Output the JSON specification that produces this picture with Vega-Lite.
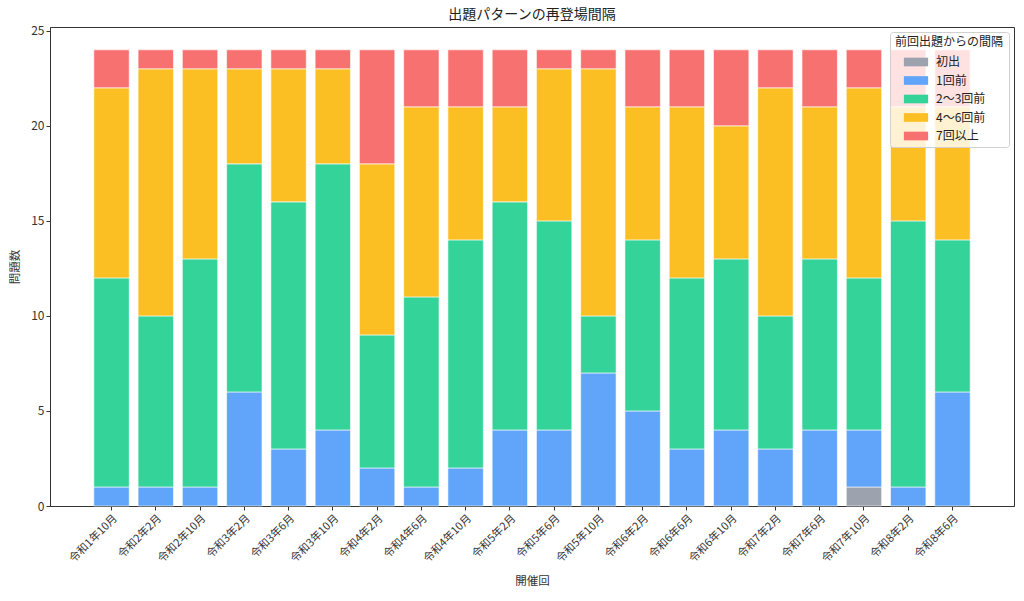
{
  "$schema": "https://vega.github.io/schema/vega-lite/v6.json",
  "autosize": {"type": "none"},
  "padding": {"left": 50, "top": 27, "right": 10, "bottom": 95},
  "width": 964,
  "height": 479,
  "title": {"text": "出題パターンの再登場間隔", "fontSize": 14, "fontWeight": "normal", "font": "Noto Sans CJK JP", "color": "#222", "offset": 3},
  "config": {
    "font": "Noto Sans CJK JP",
    "view": {"stroke": "#333", "strokeWidth": 1},
    "axis": {"labelFont": "Noto Sans CJK JP", "titleFont": "Noto Sans CJK JP", "labelColor": "#333", "titleColor": "#333", "tickColor": "#333", "domainColor": "#333", "titleFontWeight": "normal", "grid": false, "labelFontSize": 11, "titleFontSize": 11.5}
  },
  "data": {
    "values": [
      {"session": "令和1年10月", "interval": "1回前", "count": 1},
      {"session": "令和1年10月", "interval": "2〜3回前", "count": 11},
      {"session": "令和1年10月", "interval": "4〜6回前", "count": 10},
      {"session": "令和1年10月", "interval": "7回以上", "count": 2},
      {"session": "令和2年2月", "interval": "1回前", "count": 1},
      {"session": "令和2年2月", "interval": "2〜3回前", "count": 9},
      {"session": "令和2年2月", "interval": "4〜6回前", "count": 13},
      {"session": "令和2年2月", "interval": "7回以上", "count": 1},
      {"session": "令和2年10月", "interval": "1回前", "count": 1},
      {"session": "令和2年10月", "interval": "2〜3回前", "count": 12},
      {"session": "令和2年10月", "interval": "4〜6回前", "count": 10},
      {"session": "令和2年10月", "interval": "7回以上", "count": 1},
      {"session": "令和3年2月", "interval": "1回前", "count": 6},
      {"session": "令和3年2月", "interval": "2〜3回前", "count": 12},
      {"session": "令和3年2月", "interval": "4〜6回前", "count": 5},
      {"session": "令和3年2月", "interval": "7回以上", "count": 1},
      {"session": "令和3年6月", "interval": "1回前", "count": 3},
      {"session": "令和3年6月", "interval": "2〜3回前", "count": 13},
      {"session": "令和3年6月", "interval": "4〜6回前", "count": 7},
      {"session": "令和3年6月", "interval": "7回以上", "count": 1},
      {"session": "令和3年10月", "interval": "1回前", "count": 4},
      {"session": "令和3年10月", "interval": "2〜3回前", "count": 14},
      {"session": "令和3年10月", "interval": "4〜6回前", "count": 5},
      {"session": "令和3年10月", "interval": "7回以上", "count": 1},
      {"session": "令和4年2月", "interval": "1回前", "count": 2},
      {"session": "令和4年2月", "interval": "2〜3回前", "count": 7},
      {"session": "令和4年2月", "interval": "4〜6回前", "count": 9},
      {"session": "令和4年2月", "interval": "7回以上", "count": 6},
      {"session": "令和4年6月", "interval": "1回前", "count": 1},
      {"session": "令和4年6月", "interval": "2〜3回前", "count": 10},
      {"session": "令和4年6月", "interval": "4〜6回前", "count": 10},
      {"session": "令和4年6月", "interval": "7回以上", "count": 3},
      {"session": "令和4年10月", "interval": "1回前", "count": 2},
      {"session": "令和4年10月", "interval": "2〜3回前", "count": 12},
      {"session": "令和4年10月", "interval": "4〜6回前", "count": 7},
      {"session": "令和4年10月", "interval": "7回以上", "count": 3},
      {"session": "令和5年2月", "interval": "1回前", "count": 4},
      {"session": "令和5年2月", "interval": "2〜3回前", "count": 12},
      {"session": "令和5年2月", "interval": "4〜6回前", "count": 5},
      {"session": "令和5年2月", "interval": "7回以上", "count": 3},
      {"session": "令和5年6月", "interval": "1回前", "count": 4},
      {"session": "令和5年6月", "interval": "2〜3回前", "count": 11},
      {"session": "令和5年6月", "interval": "4〜6回前", "count": 8},
      {"session": "令和5年6月", "interval": "7回以上", "count": 1},
      {"session": "令和5年10月", "interval": "1回前", "count": 7},
      {"session": "令和5年10月", "interval": "2〜3回前", "count": 3},
      {"session": "令和5年10月", "interval": "4〜6回前", "count": 13},
      {"session": "令和5年10月", "interval": "7回以上", "count": 1},
      {"session": "令和6年2月", "interval": "1回前", "count": 5},
      {"session": "令和6年2月", "interval": "2〜3回前", "count": 9},
      {"session": "令和6年2月", "interval": "4〜6回前", "count": 7},
      {"session": "令和6年2月", "interval": "7回以上", "count": 3},
      {"session": "令和6年6月", "interval": "1回前", "count": 3},
      {"session": "令和6年6月", "interval": "2〜3回前", "count": 9},
      {"session": "令和6年6月", "interval": "4〜6回前", "count": 9},
      {"session": "令和6年6月", "interval": "7回以上", "count": 3},
      {"session": "令和6年10月", "interval": "1回前", "count": 4},
      {"session": "令和6年10月", "interval": "2〜3回前", "count": 9},
      {"session": "令和6年10月", "interval": "4〜6回前", "count": 7},
      {"session": "令和6年10月", "interval": "7回以上", "count": 4},
      {"session": "令和7年2月", "interval": "1回前", "count": 3},
      {"session": "令和7年2月", "interval": "2〜3回前", "count": 7},
      {"session": "令和7年2月", "interval": "4〜6回前", "count": 12},
      {"session": "令和7年2月", "interval": "7回以上", "count": 2},
      {"session": "令和7年6月", "interval": "1回前", "count": 4},
      {"session": "令和7年6月", "interval": "2〜3回前", "count": 9},
      {"session": "令和7年6月", "interval": "4〜6回前", "count": 8},
      {"session": "令和7年6月", "interval": "7回以上", "count": 3},
      {"session": "令和7年10月", "interval": "初出", "count": 1},
      {"session": "令和7年10月", "interval": "1回前", "count": 3},
      {"session": "令和7年10月", "interval": "2〜3回前", "count": 8},
      {"session": "令和7年10月", "interval": "4〜6回前", "count": 10},
      {"session": "令和7年10月", "interval": "7回以上", "count": 2},
      {"session": "令和8年2月", "interval": "1回前", "count": 1},
      {"session": "令和8年2月", "interval": "2〜3回前", "count": 14},
      {"session": "令和8年2月", "interval": "4〜6回前", "count": 6},
      {"session": "令和8年2月", "interval": "7回以上", "count": 3},
      {"session": "令和8年6月", "interval": "1回前", "count": 6},
      {"session": "令和8年6月", "interval": "2〜3回前", "count": 8},
      {"session": "令和8年6月", "interval": "4〜6回前", "count": 7},
      {"session": "令和8年6月", "interval": "7回以上", "count": 3}
    ]
  },
  "transform": [
    {"calculate": "indexof(['初出','1回前','2〜3回前','4〜6回前','7回以上'], datum.interval)", "as": "stackOrder"}
  ],
  "mark": {"type": "bar", "stroke": "white", "strokeWidth": 0.6},
  "encoding": {
    "x": {
      "field": "session", "type": "nominal", "sort": null, "title": "開催回",
      "scale": {"paddingInner": 0.2, "paddingOuter": 0.99},
      "axis": {"labelAngle": -45, "labelAlign": "right", "labelBaseline": "top", "tickSize": 4, "labelPadding": 2, "titlePadding": 12}
    },
    "y": {
      "field": "count", "type": "quantitative", "title": "問題数", "stack": "zero",
      "scale": {"domain": [0, 25.2], "nice": false},
      "axis": {"values": [0, 5, 10, 15, 20, 25], "tickSize": 4, "labelFontSize": 12, "titlePadding": 10}
    },
    "color": {
      "field": "interval", "type": "nominal", "title": "前回出題からの間隔",
      "scale": {"domain": ["初出", "1回前", "2〜3回前", "4〜6回前", "7回以上"], "range": ["#9ca3af", "#60a5fa", "#34d399", "#fbbf24", "#f87171"]},
      "legend": {
        "orient": "top-right", "offset": 5,
        "fillColor": "rgba(255,255,255,0.8)", "strokeColor": "#d0d0d0", "cornerRadius": 3, "padding": 5,
        "titleFontSize": 12, "titleFontWeight": "normal", "titleColor": "#222", "titlePadding": 4,
        "labelFontSize": 12, "labelColor": "#222", "labelOffset": 11, "symbolOffset": 12,
        "symbolType": "M-1.4,-0.5H1.4V0.5H-1.4Z", "symbolSize": 300, "symbolStrokeWidth": 0, "symbolOpacity": 1, "rowPadding": 3.5
      }
    },
    "order": {"field": "stackOrder", "type": "quantitative"}
  }
}
